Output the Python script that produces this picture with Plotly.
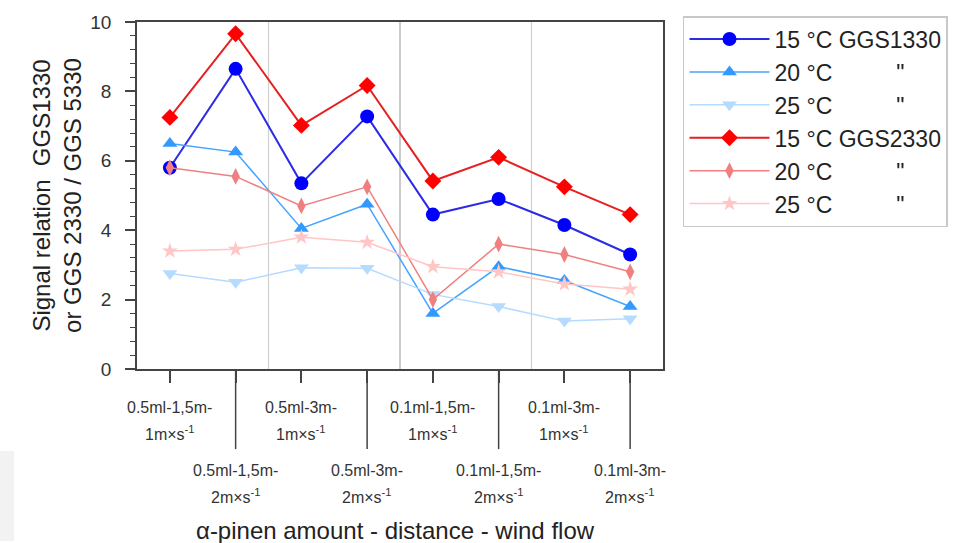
import plotly.graph_objects as go

categories = ["0.5ml-1,5m-1", "0.5ml-1,5m-2", "0.5ml-3m-1", "0.5ml-3m-2",
              "0.1ml-1,5m-1", "0.1ml-1,5m-2", "0.1ml-3m-1", "0.1ml-3m-2"]
label_line1 = ["0.5ml-1,5m-", "0.5ml-1,5m-", "0.5ml-3m-", "0.5ml-3m-",
               "0.1ml-1,5m-", "0.1ml-1,5m-", "0.1ml-3m-", "0.1ml-3m-"]
label_line2 = ["1m×s<sup>-1</sup>", "2m×s<sup>-1</sup>"] * 4

ggs1330_15 = [5.8, 8.65, 5.35, 7.28, 4.45, 4.9, 4.15, 3.3]
ggs1330_20 = [6.5, 6.25, 4.05, 4.75, 1.6, 2.95, 2.55, 1.8]
ggs1330_25 = [2.75, 2.5, 2.92, 2.9, 2.15, 1.8, 1.38, 1.45]
ggs2330_15 = [7.25, 9.66, 7.02, 8.17, 5.42, 6.1, 5.25, 4.45]
ggs2330_20 = [5.8, 5.55, 4.7, 5.25, 2.0, 3.6, 3.3, 2.8]
ggs2330_25 = [3.4, 3.45, 3.8, 3.65, 2.95, 2.8, 2.45, 2.3]

names = ["15 °C GGS1330",
         "20 °C" + "\u00a0" * 10 + '"',
         "25 °C" + "\u00a0" * 10 + '"',
         "15 °C GGS2330",
         "20 °C" + "\u00a0" * 10 + '"',
         "25 °C" + "\u00a0" * 10 + '"']

FONT = "Arial, Liberation Sans, sans-serif"
xi = list(range(len(categories)))

series = [
    (ggs1330_15, names[0], "circle", 14, "#0000ff", "#2b2be6", 2),
    (ggs1330_20, names[1], "triangle-up", 13, "#3399ff", "#46a3ff", 1.5),
    (ggs1330_25, names[2], "triangle-down", 13, "#b5dbff", "#b5dbff", 1.5),
    (ggs2330_15, names[3], "diamond", 13, "#ff0000", "#e62020", 2),
    (ggs2330_20, names[4], "diamond-tall", 12, "#f08080", "#f08080", 1.5),
    (ggs2330_25, names[5], "star", 12, "#ffc6c6", "#ffc6c6", 1.5),
]

fig = go.Figure()
for i, (vals, nm, sym, sz, mc, lc, lw) in enumerate(series):
    fig.add_trace(go.Scatter(
        x=xi, y=vals, name=nm, mode="lines+markers",
        legendgroup=f"g{i}",
        line=dict(color=lc, width=lw),
        marker=dict(symbol=sym, size=sz, color=mc, line=dict(width=0)),
    ))

shapes = []
# vertical separators
for xv, col in [(1.5, "#d0d0d0"), (3.5, "#a8a8a8"), (5.5, "#d0d0d0")]:
    shapes.append(dict(type="line", xref="x", yref="paper", x0=xv, x1=xv, y0=0, y1=1,
                       line=dict(color=col, width=1.2), layer="below"))
# long ticks for the second row of labels
for k in range(1, len(categories), 2):
    shapes.append(dict(type="line", xref="x", yref="paper", x0=k, x1=k, y0=0, y1=-81 / 351,
                       line=dict(color="#444444", width=1.5)))
# faint grey block at bottom left
shapes.append(dict(type="rect", xref="paper", yref="paper",
                   x0=-137 / 526, x1=-123 / 526, y0=-174 / 351, y1=-83 / 351,
                   fillcolor="#f2f2f2", line=dict(width=0), layer="below"))

annotations = []
for k in range(len(categories)):
    base = -38 if k % 2 == 0 else -101
    annotations.append(dict(x=k, y=0, xref="x", yref="paper", text=label_line1[k],
                            showarrow=False, yshift=base, yanchor="middle",
                            font=dict(size=16, color="#333333", family=FONT)))
    annotations.append(dict(x=k, y=0, xref="x", yref="paper", text=label_line2[k],
                            showarrow=False, yshift=base - 26, yanchor="middle",
                            font=dict(size=16, color="#333333", family=FONT)))
annotations.append(dict(x=0.492, y=0, xref="paper", yref="paper",
                        text="α-pinen amount - distance - wind flow", showarrow=False,
                        yshift=-161, yanchor="middle",
                        font=dict(size=24, color="#222222", family=FONT)))

fig.update_layout(
    width=965, height=543,
    margin=dict(l=137, r=302, t=18, b=174),
    paper_bgcolor="white", plot_bgcolor="white",
    font=dict(family=FONT, color="#333333"),
    shapes=shapes, annotations=annotations,
    legend=dict(x=1.038, y=1.017, xanchor="left", yanchor="top",
                bordercolor="#c8c8c8", borderwidth=1.5, bgcolor="white",
                font=dict(size=23, color="#222222", family=FONT),
                tracegroupgap=0, itemwidth=80),
    xaxis=dict(range=[-0.5, 7.5], tickvals=xi, showticklabels=False,
               ticks="outside", ticklen=12, tickwidth=1.5, tickcolor="#444444",
               showline=True, linecolor="#444444", linewidth=1.5, mirror=True,
               showgrid=False, zeroline=False),
    yaxis=dict(range=[0, 10], dtick=2, ticks="outside", ticklen=10, tickwidth=1.5,
               tickcolor="#444444", showline=True, linecolor="#444444", linewidth=1.5,
               mirror=True, showgrid=False, zeroline=False, ticklabelstandoff=10,
               tickfont=dict(size=19, color="#333333"),
               minor=dict(dtick=0.4, ticks="outside", ticklen=5, tickcolor="#444444",
                          tickwidth=1.2, showgrid=False),
               title=dict(text="Signal relation  GGS1330<br>or GGS 2330 / GGS 5330",
                          font=dict(size=24, color="#222222"), standoff=2)),
)

fig.write_html("out.html", config={"displayModeBar": False},
               post_script="document.body.style.margin='0';document.body.style.overflow='hidden';")
